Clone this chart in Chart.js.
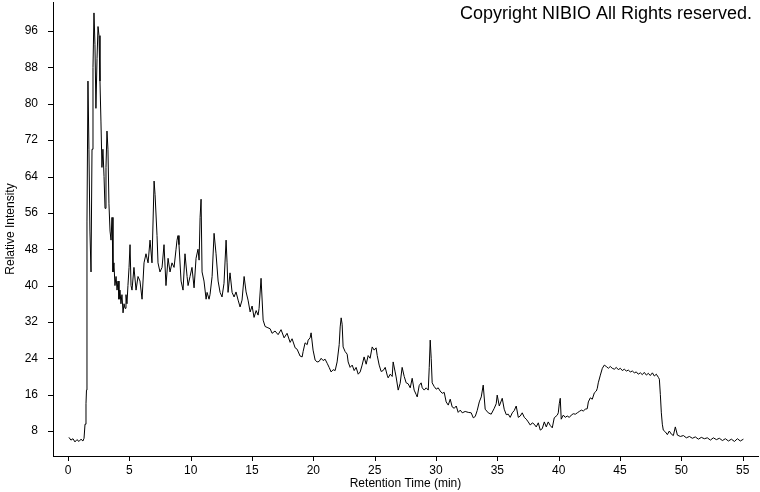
<!DOCTYPE html>
<html>
<head>
<meta charset="utf-8">
<script src="https://cdn.jsdelivr.net/npm/chart.js@4.4.1/dist/chart.umd.min.js"></script>
<style>
  html, body { margin: 0; padding: 0; background: #fff; }
  #wrap { width: 760px; height: 492px; position: relative; }
</style>
</head>
<body>
<div id="wrap"><canvas id="chromChart"></canvas></div>
<script>
// Retention time (min) and relative intensity
const retentionTime = [
  0.08, 0.24, 0.41, 0.57, 0.73, 0.90, 1.06, 1.22, 1.31, 1.39, 1.47, 1.51, 1.55, 1.63, 1.71, 1.79, 1.88, 1.96,
  2.04, 2.12, 2.20, 2.28, 2.37, 2.45, 2.53, 2.61, 2.69, 2.77, 2.85, 2.94, 3.02, 3.10, 3.18, 3.26, 3.34, 3.43,
  3.51, 3.59, 3.67, 3.75, 3.83, 3.92, 4.00, 4.08, 4.16, 4.24, 4.32, 4.40, 4.49, 4.57, 4.65, 4.73, 4.81, 4.89,
  4.98, 5.06, 5.14, 5.22, 5.38, 5.55, 5.71, 5.87, 6.04, 6.20, 6.36, 6.53, 6.69, 6.85, 7.02, 7.10, 7.26, 7.34,
  7.50, 7.67, 7.83, 7.99, 8.16, 8.32, 8.48, 8.65, 8.81, 8.89, 8.97, 9.05, 9.22, 9.38, 9.54, 9.71, 9.79, 9.95,
  10.11, 10.28, 10.44, 10.60, 10.69, 10.77, 10.85, 10.93, 11.09, 11.26, 11.34, 11.50, 11.58, 11.75, 11.91,
  12.07, 12.24, 12.40, 12.56, 12.72, 12.89, 12.97, 13.05, 13.21, 13.38, 13.54, 13.70, 13.87, 14.03, 14.19,
  14.36, 14.52, 14.68, 14.85, 15.01, 15.17, 15.34, 15.50, 15.58, 15.74, 15.91, 16.07, 16.23, 16.48, 16.64,
  16.88, 17.13, 17.37, 17.62, 17.86, 18.11, 18.27, 18.52, 18.68, 18.92, 19.09, 19.17, 19.33, 19.50, 19.58,
  19.74, 19.82, 19.98, 20.15, 20.31, 20.47, 20.64, 20.80, 20.96, 21.13, 21.29, 21.45, 21.62, 21.78, 21.94,
  22.11, 22.19, 22.27, 22.35, 22.43, 22.59, 22.76, 22.84, 23.00, 23.17, 23.33, 23.49, 23.66, 23.82, 23.98,
  24.14, 24.31, 24.47, 24.63, 24.80, 24.96, 25.12, 25.21, 25.37, 25.53, 25.69, 25.86, 26.02, 26.10, 26.27,
  26.43, 26.51, 26.67, 26.75, 26.92, 27.08, 27.24, 27.41, 27.57, 27.73, 27.90, 28.06, 28.22, 28.39, 28.47,
  28.63, 28.79, 28.88, 29.04, 29.20, 29.37, 29.45, 29.53, 29.61, 29.69, 29.85, 30.02, 30.18, 30.34, 30.51,
  30.67, 30.83, 31.00, 31.16, 31.32, 31.49, 31.65, 31.81, 31.98, 32.14, 32.38, 32.63, 32.87, 33.04, 33.20,
  33.36, 33.53, 33.69, 33.85, 34.01, 34.26, 34.50, 34.75, 34.91, 34.99, 35.16, 35.40, 35.56, 35.73, 35.89,
  36.05, 36.22, 36.38, 36.54, 36.71, 36.87, 37.03, 37.20, 37.36, 37.52, 37.69, 37.85, 38.01, 38.17, 38.34,
  38.50, 38.66, 38.83, 38.99, 39.15, 39.32, 39.48, 39.64, 39.89, 39.97, 40.05, 40.13, 40.21, 40.38, 40.54,
  40.70, 40.87, 41.03, 41.19, 41.36, 41.52, 41.68, 41.85, 42.01, 42.17, 42.33, 42.42, 42.58, 42.74, 42.91,
  43.07, 43.15, 43.23, 43.40, 43.56, 43.72, 43.88, 44.05, 44.21, 44.37, 44.54, 44.70, 44.86, 45.03, 45.19,
  45.35, 45.52, 45.68, 45.84, 46.01, 46.17, 46.33, 46.49, 46.66, 46.82, 46.98, 47.15, 47.31, 47.47, 47.64,
  47.80, 47.96, 48.13, 48.21, 48.29, 48.37, 48.45, 48.53, 48.70, 48.86, 49.02, 49.19, 49.35, 49.51, 49.68,
  49.92, 50.17, 50.41, 50.66, 50.90, 51.14, 51.39, 51.63, 51.88, 52.12, 52.37, 52.61, 52.86, 53.10, 53.35,
  53.59, 53.84, 54.08, 54.33, 54.57, 54.81, 55.06
];

const relIntensity = [
  6.6, 6.0, 6.3, 5.6, 6.1, 5.7, 6.2, 5.8, 6.4, 9.5, 14, 17, 54, 85, 70, 52, 43, 70,
  88, 100, 93, 79, 90, 97, 95, 85, 76, 66, 70, 64, 57, 66, 74, 70, 58, 52,
  50, 55, 43, 45, 40, 42, 39, 41, 37, 39, 36, 38, 34, 36, 35, 38, 36, 40,
  44, 49, 40, 39, 44, 39, 42, 41, 37, 45, 47, 45, 50, 45, 63, 60, 51, 45,
  43, 44, 49, 40, 46, 43, 45, 44, 48, 50, 51, 49, 41, 39, 47, 42, 40, 42,
  44, 39.5, 46, 48, 45.6, 55, 59, 43, 41, 37, 38.5, 37, 38, 42, 51.5,
  47, 41, 38.5, 37.5, 40.5, 50, 45, 38.5, 42.8, 38.5, 37.5, 38.6, 36.8, 35.3, 36.8,
  42, 38.6, 36.8, 34.2, 35.5, 33, 34.5, 33.5, 35, 41.6, 32.4, 31, 30.8, 30.5, 29.5,
  30, 29.2, 30.3, 28.5, 29.5, 27.5, 28.3, 26.3, 26, 24.5, 24.3, 25.5, 27.4, 27, 28,
  28.5, 29.6, 25.8, 23.6, 23.2, 23.3, 24, 23.5, 23.8, 22.9, 22, 21, 21.5, 21.3, 23.2,
  27, 30.9, 32.9, 31.5, 26.5, 25.5, 24.9, 23.2, 22, 22.5, 21.3, 22, 20.5, 21, 22.5,
  24.3, 22.7, 24.6, 24, 26.5, 25.8, 26.3, 24.6, 22.5, 21.1, 21.3, 22, 20.3, 19.7, 20.5,
  20, 23.2, 21, 19.9, 17, 18.5, 22, 20, 18.6, 18.4, 17.5, 19.6, 17, 16, 15.5,
  18, 18.6, 17.5, 17, 17.5, 17, 22, 28, 24, 18.6, 17.8, 17.2, 17.5, 16.8, 16.3,
  16.5, 14.4, 13.7, 15, 13.3, 13, 13.5, 12.1, 12.6, 12, 12.3, 12.1, 12, 10.9, 11.2,
  12.5, 14.4, 15.5, 18.1, 12.8, 12, 11.7, 13, 14, 15.9, 13.5, 15.2, 12.8, 11.6, 11.7,
  11, 12, 12.5, 13.5, 11, 11.3, 12, 11, 10.6, 10, 9.3, 9.8, 9.5, 8.9, 9.8,
  8.2, 8.5, 10, 8.9, 10, 9.2, 8.7, 10.9, 11.5, 12, 14, 15.2, 10.6, 11.5, 11,
  11.3, 11, 11.5, 11.8, 11.7, 12, 12.3, 12.6, 12.4, 12.8, 12.9, 14.4, 15.3, 15, 16.4,
  16.8, 17.4, 18.6, 20.3, 21.8, 22.5, 22.2, 21.8, 22.2, 21.8, 21.6, 22, 21.5, 21.8, 21.3,
  21.6, 21.2, 21.4, 21, 21.2, 20.8, 21, 20.5, 20.8, 20.4, 20.9, 20.3, 20.7, 20.2, 20.8,
  20.1, 20.5, 19.8, 19.4, 16, 12, 9.5, 8.2, 7.8, 7.2, 8, 7.3, 7, 8.9, 7.1,
  6.8, 7, 6.5, 6.8, 6.4, 6.7, 6.2, 6.6, 6.3, 6.5, 6, 6.5, 6.1, 6.4, 5.9,
  6.3, 5.8, 6.2, 5.7, 6.3, 5.8, 6.2
];

// axis ranges and label steps
const xRange = [-1.22, 56.25];
const yRange = [2.5, 102.4];
const xLabelStep = 5;
const yLabelStep = 8;
const copyrightText = 'Copyright NIBIO All Rights reserved.';

const fontFamily = '"Liberation Sans", Arial, sans-serif';

const points = retentionTime.map((t, i) => ({ x: t, y: relIntensity[i] }));

function isMultiple(v, step) {
  const r = v / step;
  return Math.abs(r - Math.round(r)) < 1e-6;
}

// draws the small tick marks and the copyright line
const tickMarks = {
  id: 'tickMarks',
  afterDraw(chart) {
    const ctx = chart.ctx;
    const area = chart.chartArea;
    const xs = chart.scales.x;
    const ys = chart.scales.y;
    ctx.save();
    ctx.strokeStyle = '#000';
    ctx.lineWidth = 1;
    ctx.beginPath();
    xs.ticks.forEach(t => {
      if (!isMultiple(t.value, 0.5)) return;
      const px = Math.round(xs.getPixelForValue(t.value)) + 0.5;
      const len = isMultiple(t.value, xLabelStep) ? 5 : 3;
      ctx.moveTo(px, area.bottom);
      ctx.lineTo(px, area.bottom + len);
    });
    ys.ticks.forEach(t => {
      if (!isMultiple(t.value, 1)) return;
      const py = Math.round(ys.getPixelForValue(t.value)) + 0.5;
      const len = isMultiple(t.value, yLabelStep) ? 5 : 3;
      ctx.moveTo(area.left, py);
      ctx.lineTo(area.left - len, py);
    });
    ctx.stroke();

    ctx.fillStyle = '#000';
    ctx.font = '18px ' + fontFamily;
    ctx.textAlign = 'right';
    ctx.textBaseline = 'alphabetic';
    ctx.fillText(copyrightText, 752, 19);
    ctx.restore();
  }
};

const ctx = document.getElementById('chromChart').getContext('2d');
const chromChart = new Chart(ctx, {
  type: 'line',
  data: {
    datasets: [{
      label: 'Relative Intensity',
      data: points,
      borderColor: '#000',
      borderWidth: 1,
      pointRadius: 0,
      tension: 0,
      fill: false
    }]
  },
  options: {
    responsive: true,
    maintainAspectRatio: false,
    animation: false,
    layout: { padding: { top: 2, right: 2, left: 0, bottom: 0 } },
    plugins: {
      legend: { display: false },
      tooltip: { enabled: false }
    },
    scales: {
      x: {
        type: 'linear',
        min: xRange[0],
        max: xRange[1],
        grid: { display: false, drawTicks: false },
        border: { display: true, color: '#000', width: 1 },
        ticks: {
          stepSize: 0.5,
          autoSkip: false,
          maxRotation: 0,
          padding: 7,
          color: '#000',
          font: { family: fontFamily, size: 12 },
          callback: v => (v >= 0 && isMultiple(v, xLabelStep)) ? String(Math.round(v)) : null
        },
        title: {
          display: true,
          text: 'Retention Time (min)',
          color: '#000',
          font: { family: fontFamily, size: 12 },
          padding: { top: 0, bottom: 1 }
        },
        afterFit: scale => { scale.height = 36; scale.paddingLeft = 0; scale.paddingRight = 0; }
      },
      y: {
        type: 'linear',
        min: yRange[0],
        max: yRange[1],
        grid: { display: false, drawTicks: false },
        border: { display: true, color: '#000', width: 1 },
        ticks: {
          stepSize: 1,
          autoSkip: false,
          padding: 15,
          color: '#000',
          font: { family: fontFamily, size: 12 },
          callback: v => isMultiple(v, yLabelStep) ? String(Math.round(v)) : null
        },
        title: {
          display: true,
          text: 'Relative Intensity',
          color: '#000',
          font: { family: fontFamily, size: 12 },
          padding: { top: 3, bottom: 0 }
        },
        afterFit: scale => { scale.width = 53; scale.paddingTop = 0; scale.paddingBottom = 0; }
      }
    }
  },
  plugins: [tickMarks]
});
</script>
</body>
</html>
